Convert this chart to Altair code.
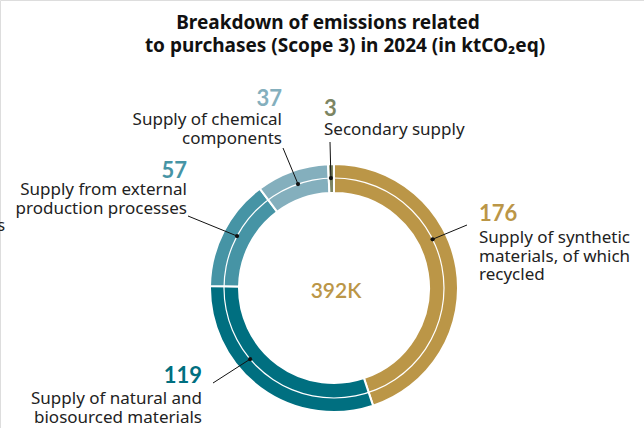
import math
import altair as alt
import pandas as pd

# ---- data ----
categories = [
    "Supply of synthetic materials, of which recycled",
    "Supply of natural and biosourced materials",
    "Supply from external production processes",
    "Supply of chemical components",
    "Secondary supply",
]
values = [176, 119, 57, 37, 3]
label_lines = [
    ["Supply of synthetic", "materials, of which", "recycled"],
    ["Supply of natural and", "biosourced materials"],
    ["Supply from external", "production processes"],
    ["Supply of chemical", "components"],
    ["Secondary supply"],
]
total_label = "392K"
title_lines = ["Breakdown of emissions related", "to purchases (Scope 3) in 2024 (in ktCO₂eq)"]

# ---- style / layout ----
colors = ["#BB9647", "#006F80", "#4694A5", "#84AFBD", "#7C8563"]
W, H = 644, 428
CX, CY = 334, 288
R_OUT, R_IN, R_LINE = 124, 95, 110
FONT = "Lato"
LFONT = "Noto Sans"
dot_angle = [63.7, 229.7, 298.2, 340.9, 358.4]
leader_end = [(467, 225), (213, 383), (188, 216), (283, 148), (330, 142)]
num_pos = [(479, 221, "left"), (202, 383, "right"), (187, 178, "right"), (282, 106, "right"), (324, 116, "left")]
label_first = [243, 404, 195, 125, 135]
LINE_H = 18.5
title_pos = [(328, 29), (345, 52)]

df = pd.DataFrame({"category": categories, "value": values, "ord": list(range(len(values)))})

lead_rows, num_rows, lab_rows = [], [], []
for i, c in enumerate(categories):
    a = math.radians(dot_angle[i])
    dx, dy = CX + R_LINE * math.sin(a), CY - R_LINE * math.cos(a)
    lead_rows.append({"category": c, "x": dx, "y": dy, "x2": leader_end[i][0], "y2": leader_end[i][1]})
    nx, ny, al = num_pos[i]
    num_rows.append({"category": c, "x": nx, "y": ny, "align": al, "text": str(values[i])})
    for j, line in enumerate(label_lines[i]):
        lab_rows.append({"x": nx, "y": label_first[i] + j * LINE_H, "align": al, "text": line})
lead = pd.DataFrame(lead_rows)
nums = pd.DataFrame(num_rows)
labs = pd.DataFrame(lab_rows)

cscale = alt.Scale(domain=categories, range=colors)
X = lambda f: alt.X(f, scale=None, axis=None)
Y = lambda f: alt.Y(f, scale=None, axis=None)

arcs = alt.Chart(df).mark_arc(radius=R_OUT, radius2=R_IN, stroke="white", strokeWidth=2).encode(
    theta=alt.Theta("value:Q", stack=True),
    color=alt.Color("category:N", scale=cscale, legend=None),
    order=alt.Order("ord:Q"),
    x=alt.value(CX), y=alt.value(CY),
)

ring = alt.Chart(pd.DataFrame({"k": [0]})).mark_arc(
    radius=R_LINE + 0.6, radius2=R_LINE - 0.6, fill="white"
).encode(theta=alt.value(0), theta2=alt.value(2 * math.pi), x=alt.value(CX), y=alt.value(CY))

rules = alt.Chart(lead).mark_rule(color="#111111", strokeWidth=1).encode(
    x=X("x:Q"), y=Y("y:Q"), x2="x2:Q", y2="y2:Q"
)
dots = alt.Chart(lead).mark_circle(color="#111111", size=18, opacity=1).encode(x=X("x:Q"), y=Y("y:Q"))

nums_l = alt.Chart(nums[nums["align"] == "left"]).mark_text(
    font=FONT, fontSize=22, fontWeight="bold", align="left", baseline="alphabetic"
).encode(x=X("x:Q"), y=Y("y:Q"), text="text:N", color=alt.Color("category:N", scale=cscale, legend=None))
nums_r = alt.Chart(nums[nums["align"] == "right"]).mark_text(
    font=FONT, fontSize=22, fontWeight="bold", align="right", baseline="alphabetic"
).encode(x=X("x:Q"), y=Y("y:Q"), text="text:N", color=alt.Color("category:N", scale=cscale, legend=None))

labs_l = alt.Chart(labs[labs["align"] == "left"]).mark_text(
    font=LFONT, fontSize=17, align="left", baseline="alphabetic", color="#222222"
).encode(x=X("x:Q"), y=Y("y:Q"), text="text:N")
labs_r = alt.Chart(labs[labs["align"] == "right"]).mark_text(
    font=LFONT, fontSize=17, align="right", baseline="alphabetic", color="#222222"
).encode(x=X("x:Q"), y=Y("y:Q"), text="text:N")

stray = alt.Chart(pd.DataFrame({"t": ["s"]})).mark_text(
    font=LFONT, fontSize=17, align="left", baseline="alphabetic", color="#222222"
).encode(x=alt.value(-3), y=alt.value(231), text="t:N")

center = alt.Chart(pd.DataFrame({"t": [total_label]})).mark_text(
    font=FONT, fontSize=21, fontWeight=600, align="center", baseline="alphabetic", color=colors[0]
).encode(x=alt.value(CX + 2), y=alt.value(298), text="t:N")

tdf = pd.DataFrame({"text": title_lines, "x": [p[0] for p in title_pos], "y": [p[1] for p in title_pos]})
title = alt.Chart(tdf).mark_text(
    font=LFONT, fontSize=19, fontWeight="bold", align="center", baseline="alphabetic", color="#111111"
).encode(x=X("x:Q"), y=Y("y:Q"), text="text:N")

chart = alt.layer(arcs, ring, rules, dots, nums_l, nums_r, labs_l, labs_r, stray, center, title).properties(
    width=W, height=H, padding=0, autosize=alt.AutoSizeParams(type="none")
).configure_view(stroke=None).configure(background="white")

chart.save("out.html", embed_options={"renderer": "svg", "actions": False})
